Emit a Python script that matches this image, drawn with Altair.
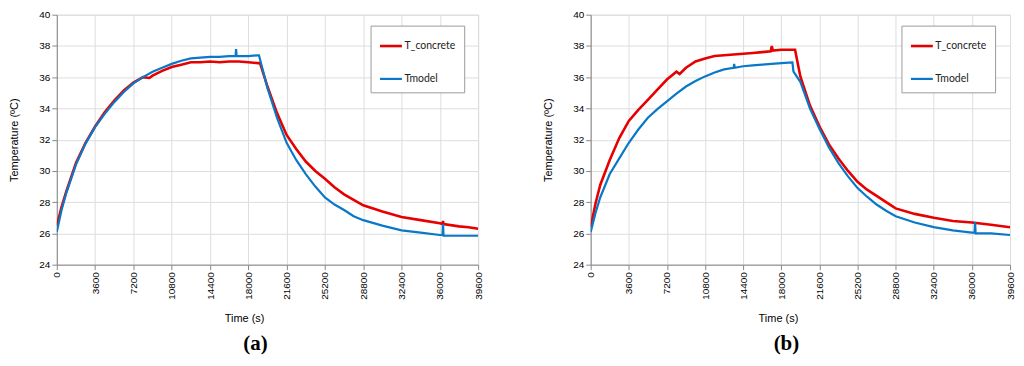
import altair as alt
import pandas as pd

# ---------------- data ----------------
series_names = ["T_concrete", "Tmodel"]
series_colors = ["#e60000", "#0a78c8"]
x_ticks = [0, 3600, 7200, 10800, 14400, 18000, 21600, 25200, 28800, 32400, 36000, 39600]
y_ticks = [24, 26, 28, 30, 32, 34, 36, 38, 40]

# Panel (a) - T_concrete
a_conc_t = [0, 450, 900, 1800, 2700, 3600, 4500, 5400, 6300, 7200, 8100, 8700, 9000, 9900,
            10800, 11700, 12600, 13500, 14400, 15300, 16200, 17100, 18000, 18900, 19100,
            19800, 20700, 21600, 22500, 23400, 24300, 25200, 26100, 27000, 27900, 28800,
            30600, 32400, 34200, 36000, 36250, 36300, 36350, 37800, 38700, 39600]
a_conc_v = [26.5, 27.7, 28.7, 30.5, 31.8, 32.85, 33.75, 34.5, 35.15, 35.65, 36.0, 35.95, 36.1, 36.4,
            36.65, 36.8, 36.95, 36.95, 37.0, 36.95, 37.0, 37.0, 36.95, 36.9, 36.9,
            35.4, 33.7, 32.3, 31.4, 30.6, 30.0, 29.5, 28.95, 28.5, 28.15, 27.8,
            27.4, 27.05, 26.85, 26.65, 26.6, 26.8, 26.6, 26.45, 26.4, 26.3]

# Panel (a) - Tmodel
a_model_t = [0, 450, 900, 1800, 2700, 3600, 4500, 5400, 6300, 7200, 8100, 9000, 9900,
             10800, 11700, 12600, 13500, 14400, 15300, 16200, 16800, 16850, 16900, 18000,
             18900, 19000, 19800, 20700, 21600, 22500, 23400, 24300, 25200, 26100, 27000,
             27900, 28800, 30600, 32400, 34200, 36000, 36250, 36300, 36350, 37800, 39600]
a_model_v = [26.1, 27.5, 28.6, 30.4, 31.75, 32.8, 33.65, 34.4, 35.05, 35.6, 36.0, 36.35, 36.6,
             36.85, 37.05, 37.2, 37.25, 37.3, 37.3, 37.35, 37.35, 37.8, 37.35, 37.35,
             37.4, 37.4, 35.3, 33.4, 31.8, 30.7, 29.8, 29.0, 28.3, 27.85, 27.5,
             27.1, 26.85, 26.5, 26.2, 26.05, 25.9, 25.9, 26.6, 25.85, 25.85, 25.85]

# Panel (b) - T_concrete
b_conc_t = [0, 450, 900, 1800, 2700, 3600, 4500, 5400, 6300, 7200, 8100, 8400, 9000, 9900,
            10800, 11700, 12600, 13500, 14400, 15300, 16200, 17000, 17100, 17200, 18000,
            19000, 19300, 19800, 20700, 21600, 22500, 23400, 24300, 25200, 26100, 27000,
            27900, 28800, 30600, 32400, 34200, 36000, 37800, 39600]
b_conc_v = [26.4, 27.9, 29.1, 30.7, 32.1, 33.2, 33.9, 34.55, 35.2, 35.85, 36.35, 36.2, 36.6, 37.0,
            37.2, 37.35, 37.4, 37.45, 37.5, 37.55, 37.6, 37.65, 38.0, 37.7, 37.75,
            37.75, 37.75, 36.05, 34.2, 32.85, 31.7, 30.8, 30.0, 29.3, 28.8, 28.4,
            28.0, 27.6, 27.25, 27.0, 26.8, 26.7, 26.55, 26.4]

# Panel (b) - Tmodel
b_model_t = [0, 450, 900, 1800, 2700, 3600, 4500, 5400, 6300, 7200, 8100, 9000, 9900,
             10800, 11700, 12600, 13500, 13550, 13600, 14400, 15300, 16200, 17100, 18000,
             19050, 19150, 19800, 20700, 21600, 22500, 23400, 24300, 25200, 26100, 27000,
             27900, 28800, 30600, 32400, 34200, 36000, 36250, 36300, 36350, 37800, 39600]
b_model_v = [26.1, 27.3, 28.3, 29.8, 30.8, 31.8, 32.65, 33.4, 33.95, 34.45, 34.95, 35.4, 35.75,
             36.05, 36.3, 36.5, 36.6, 36.85, 36.6, 36.7, 36.75, 36.8, 36.85, 36.9,
             36.95, 36.35, 35.7, 34.0, 32.7, 31.5, 30.5, 29.65, 28.9, 28.35, 27.85,
             27.45, 27.1, 26.7, 26.4, 26.2, 26.05, 26.05, 26.75, 26.0, 26.0, 25.9]


def frame(conc_t, conc_v, model_t, model_v):
    d1 = pd.DataFrame({"t": conc_t, "T": conc_v, "series": series_names[0]})
    d2 = pd.DataFrame({"t": model_t, "T": model_v, "series": series_names[1]})
    return pd.concat([d1, d2], ignore_index=True)


FONT = "Lato"


def panel(df, label, label_dx, leg_x, leg_y, width):
    return (
        alt.Chart(df)
        .mark_line(clip=True)
        .encode(
            x=alt.X(
                "t:Q",
                scale=alt.Scale(domain=[0, 39600], nice=False, zero=False),
                axis=alt.Axis(
                    values=x_ticks,
                    format="d",
                    labelAngle=-90,
                    title="Time (s)",
                    titleFontWeight="normal",
                    titleX=188,
                    titleY=54,
                    titleBaseline="middle",
                    titleAlign="center",
                ),
            ),
            y=alt.Y(
                "T:Q",
                scale=alt.Scale(domain=[24, 40], nice=False, zero=False),
                axis=alt.Axis(
                    values=y_ticks,
                    format="d",
                    title="Temperature (ºC)",
                    titleFontWeight="normal",
                    titlePadding=19,
                ),
            ),
            color=alt.Color(
                "series:N",
                scale=alt.Scale(domain=series_names, range=series_colors),
                legend=alt.Legend(
                    title=None,
                    orient="none",
                    legendX=leg_x,
                    legendY=leg_y,
                    symbolType="stroke",
                    symbolSize=484,
                    symbolStrokeWidth=3,
                    labelFontSize=10.5,
                    labelFont=FONT,
                    labelColor="#222222",
                    labelOffset=1,
                    padding=8,
                    rowPadding=15,
                    strokeColor="#9a9a9a",
                    fillColor="white",
                ),
            ),
            strokeWidth=alt.StrokeWidth(
                "series:N",
                scale=alt.Scale(domain=series_names, range=[2.6, 2.2]),
                legend=None,
            ),
        )
        .properties(
            width=width,
            height=251,
            title=alt.TitleParams(
                text=label,
                orient="bottom",
                anchor="middle",
                frame="group",
                font="Liberation Serif",
                fontSize=21,
                fontWeight="bold",
                color="black",
                dx=label_dx,
                offset=10,
                baseline="top",
            ),
        )
    )


chart_a = panel(frame(a_conc_t, a_conc_v, a_model_t, a_model_v), "(a)", -12, 315, 11, 423)
chart_b = panel(frame(b_conc_t, b_conc_v, b_model_t, b_model_v), "(b)", -14, 312, 11, 421)

chart = (
    alt.hconcat(chart_a, chart_b, spacing=58)
    .resolve_scale(color="independent", strokeWidth="independent")
    .resolve_legend(color="independent", strokeWidth="independent")
    .properties(padding={"left": 0, "top": 0, "right": 0, "bottom": 0})
    .configure_view(stroke="#111111", strokeWidth=1.5)
    .configure_axis(
        labelFont=FONT,
        titleFont=FONT,
        labelFontSize=11,
        titleFontSize=12,
        titleFontWeight="normal",
        labelColor="#222222",
        titleColor="#222222",
        domainColor="#111111",
        domainWidth=1.6,
        tickColor="#555555",
        tickSize=4,
        labelPadding=4,
        gridColor="#dddddd",
        gridWidth=1,
    )
    .configure(background="white")
)

chart.save("out.html", embed_options={"renderer": "svg", "actions": False})
